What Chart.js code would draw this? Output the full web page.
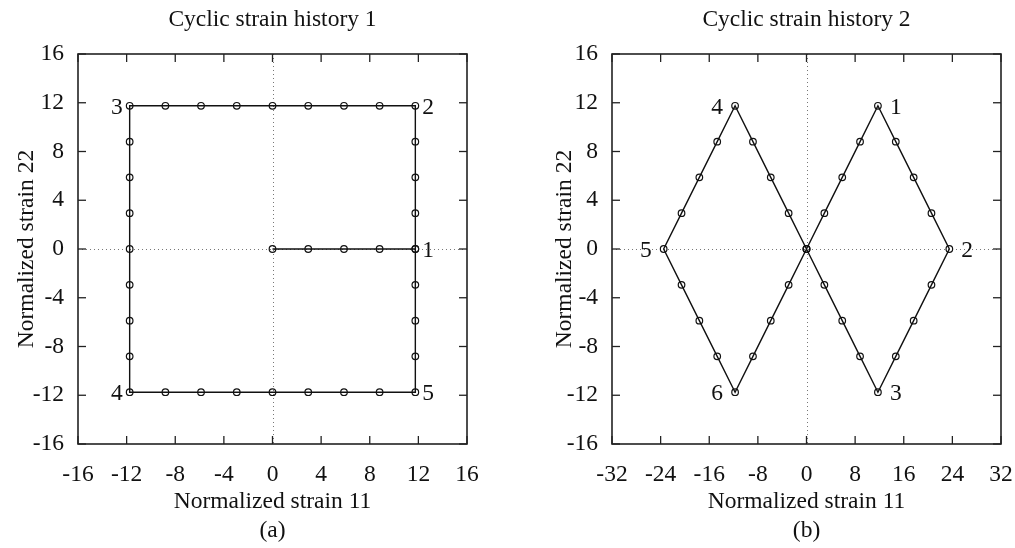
<!DOCTYPE html>
<html>
<head>
<meta charset="utf-8">
<script src="https://cdn.jsdelivr.net/npm/chart.js@4/dist/chart.umd.min.js"></script>
<style>
  html, body { margin: 0; padding: 0; background: #fff; overflow: hidden; }
  #wrap { position: relative; width: 1015px; height: 548px; }
  canvas { position: absolute; top: 0; }
</style>
</head>
<body>
<div id="wrap">
  <canvas id="chartA" width="507" height="548" style="left:0"></canvas>
  <canvas id="chartB" width="508" height="548" style="left:507px"></canvas>
</div>
<script>
// history 1: square path starting at the origin
const strain11A = [0, 2.94, 5.88, 8.81, 11.75,
  11.75, 11.75, 11.75, 11.75,
  8.81, 5.88, 2.94, 0, -2.94, -5.88, -8.81, -11.75,
  -11.75, -11.75, -11.75, -11.75, -11.75, -11.75, -11.75, -11.75,
  -8.81, -5.88, -2.94, 0, 2.94, 5.88, 8.81, 11.75,
  11.75, 11.75, 11.75, 11.75];
const strain22A = [0, 0, 0, 0, 0,
  2.94, 5.88, 8.81, 11.75,
  11.75, 11.75, 11.75, 11.75, 11.75, 11.75, 11.75, 11.75,
  8.81, 5.88, 2.94, 0, -2.94, -5.88, -8.81, -11.75,
  -11.75, -11.75, -11.75, -11.75, -11.75, -11.75, -11.75, -11.75,
  -8.81, -5.88, -2.94, 0];
const cornerTextA = ['1', '2', '3', '4', '5'];
const cornerIndexA = [4, 8, 16, 24, 32];
const cornerSideA = ['right', 'right', 'left', 'left', 'right'];

// history 2: two diamonds through the origin
const strain11B = [0, 2.94, 5.88, 8.81, 11.75, 14.69, 17.63, 20.56, 23.5,
  20.56, 17.63, 14.69, 11.75, 8.81, 5.88, 2.94, 0,
  -2.94, -5.88, -8.81, -11.75, -14.69, -17.63, -20.56, -23.5,
  -20.56, -17.63, -14.69, -11.75, -8.81, -5.88, -2.94, 0];
const strain22B = [0, 2.94, 5.88, 8.81, 11.75, 8.81, 5.88, 2.94, 0,
  -2.94, -5.88, -8.81, -11.75, -8.81, -5.88, -2.94, 0,
  2.94, 5.88, 8.81, 11.75, 8.81, 5.88, 2.94, 0,
  -2.94, -5.88, -8.81, -11.75, -8.81, -5.88, -2.94, 0];
const cornerTextB = ['1', '2', '3', '4', '5', '6'];
const cornerIndexB = [4, 8, 12, 20, 24, 28];
const cornerSideB = ['right', 'right', 'right', 'left', 'left', 'left'];

const FONT = '"Liberation Serif", "Times New Roman", serif';
const FS = 23.5;

function toPoints(xs, ys) {
  return xs.map((v, i) => ({ x: v, y: ys[i] }));
}

const framePlugin = {
  id: 'frame',
  beforeDatasetsDraw(chart, args, o) {
    const { ctx, chartArea: a, scales: { x, y } } = chart;
    const line = (x1, y1, x2, y2) => { ctx.beginPath(); ctx.moveTo(x1, y1); ctx.lineTo(x2, y2); ctx.stroke(); };
    ctx.save();
    // dotted zero axes
    ctx.strokeStyle = '#777';
    ctx.lineWidth = 1;
    ctx.setLineDash([1, 3]);
    const x0 = Math.round(x.getPixelForValue(0)) + 0.5;
    const y0 = Math.round(y.getPixelForValue(0)) + 0.5;
    line(x0, a.top, x0, a.bottom);
    line(a.left, y0, a.right, y0);
    ctx.setLineDash([]);
    // inward tick marks on all four sides
    ctx.strokeStyle = '#222';
    ctx.lineWidth = 1.3;
    x.ticks.forEach(t => {
      const p = x.getPixelForValue(t.value);
      line(p, a.bottom, p, a.bottom - 8);
      line(p, a.top, p, a.top + 8);
    });
    y.ticks.forEach(t => {
      const p = y.getPixelForValue(t.value);
      line(a.left, p, a.left + 8, p);
      line(a.right, p, a.right - 8, p);
    });
    ctx.lineWidth = 1.6;
    ctx.strokeRect(a.left, a.top, a.right - a.left, a.bottom - a.top);
    ctx.restore();
  },
  afterDatasetsDraw(chart, args, o) {
    const { ctx, scales: { x, y } } = chart;
    const pts = chart.data.datasets[0].data;
    ctx.save();
    ctx.font = FS + 'px ' + FONT;
    ctx.fillStyle = '#111';
    ctx.textBaseline = 'alphabetic';
    o.text.forEach((t, i) => {
      const p = pts[o.index[i]];
      const px = x.getPixelForValue(p.x);
      const py = y.getPixelForValue(p.y);
      const right = o.side[i] === 'right';
      ctx.textAlign = right ? 'left' : 'right';
      ctx.fillText(t, px + (right ? o.gap : -o.gap), py + 8);
    });
    ctx.restore();
  },
  afterDraw(chart, args, o) {
    const { ctx, chartArea: a } = chart;
    const cx = (a.left + a.right) / 2;
    const cy = (a.top + a.bottom) / 2;
    ctx.save();
    ctx.font = FS + 'px ' + FONT;
    ctx.fillStyle = '#111';
    ctx.textAlign = 'center';
    ctx.textBaseline = 'alphabetic';
    ctx.fillText(o.title, cx, 25.5);
    ctx.fillText('Normalized strain 11', cx, 508);
    ctx.fillText(o.caption, cx, 537);
    ctx.translate(o.yTitleX, cy);
    ctx.rotate(-Math.PI / 2);
    ctx.fillText('Normalized strain 22', 0, 0);
    ctx.restore();
  }
};

function makeChart(id, xs, ys, xMax, xStep, yWidth, padRight, frame) {
  return new Chart(document.getElementById(id), {
    type: 'scatter',
    data: {
      datasets: [{
        data: toPoints(xs, ys),
        showLine: true,
        borderColor: '#111',
        borderWidth: 1.4,
        pointRadius: 3.3,
        pointBorderWidth: 1.2,
        pointBorderColor: '#111',
        pointBackgroundColor: 'rgba(0,0,0,0)',
        pointHoverRadius: 3.3
      }]
    },
    options: {
      responsive: false,
      animation: false,
      devicePixelRatio: 1,
      layout: { padding: { left: 0, top: 54, right: padRight, bottom: 0 } },
      plugins: {
        legend: { display: false },
        tooltip: { enabled: false },
        frame: frame
      },
      scales: {
        x: {
          type: 'linear',
          min: -xMax, max: xMax,
          grid: { display: false, drawTicks: false },
          border: { display: false },
          ticks: { stepSize: xStep, padding: 17, maxRotation: 0, color: '#111', font: { family: FONT, size: FS } },
          afterFit(s) { s.height = 104; s.paddingLeft = 0; s.paddingRight = 0; }
        },
        y: {
          type: 'linear',
          min: -16, max: 16,
          grid: { display: false, drawTicks: false },
          border: { display: false },
          ticks: { stepSize: 4, padding: 14, color: '#111', font: { family: FONT, size: FS } },
          afterFit(s) { s.width = yWidth; s.paddingTop = 0; s.paddingBottom = 0; }
        }
      }
    },
    plugins: [framePlugin]
  });
}

makeChart('chartA', strain11A, strain22A, 16, 4, 78, 40, {
  title: 'Cyclic strain history 1', caption: '(a)', yTitleX: 33,
  text: cornerTextA, index: cornerIndexA, side: cornerSideA, gap: 7
});
makeChart('chartB', strain11B, strain22B, 32, 8, 105, 14, {
  title: 'Cyclic strain history 2', caption: '(b)', yTitleX: 64,
  text: cornerTextB, index: cornerIndexB, side: cornerSideB, gap: 12
});
</script>
</body>
</html>
